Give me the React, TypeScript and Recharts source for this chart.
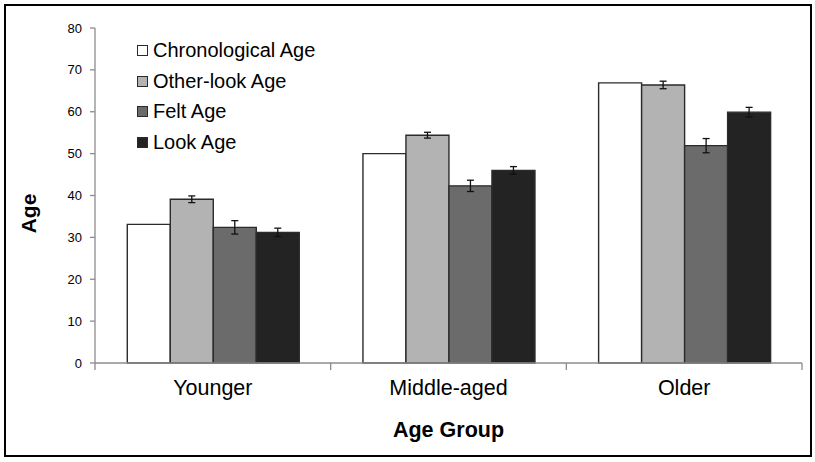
import React from 'react';
import { BarChart, Bar, XAxis, YAxis, Legend, ErrorBar } from 'recharts';

const categories = ['Younger', 'Middle-aged', 'Older'];
const seriesNames = ['Chronological Age', 'Other-look Age', 'Felt Age', 'Look Age'];
const chronological = [33.1, 50.0, 66.9];
const otherLook = [39.1, 54.4, 66.4];
const otherLookErr = [0.8, 0.7, 0.9];
const felt = [32.4, 42.3, 51.9];
const feltErr = [1.6, 1.35, 1.7];
const look = [31.2, 46.0, 59.9];
const lookErr = [1.0, 0.9, 1.15];
const yTicks = [0, 10, 20, 30, 40, 50, 60, 70, 80];

const data = categories.map((group, i) => ({
  group,
  chronological: chronological[i],
  otherLook: otherLook[i],
  otherLookErr: otherLookErr[i],
  felt: felt[i],
  feltErr: feltErr[i],
  look: look[i],
  lookErr: lookErr[i],
}));

const FONT = '"Liberation Sans", Arial, Helvetica, sans-serif';
const AXIS = '#8c8c8c';
const EDGE = '#2b2b2b';

// category tick: label at the band centre, tick marks at the band boundaries
const GroupTick = (props: any) => {
  const { x, y, payload, index } = props;
  const half = payload && typeof payload.offset === 'number' ? payload.offset : 0;
  return (
    <g>
      {index === 0 && half > 0 && (
        <line x1={x - half} y1={y} x2={x - half} y2={y + 7} stroke={AXIS} strokeWidth={1.3} />
      )}
      {half > 0 && <line x1={x + half} y1={y} x2={x + half} y2={y + 7} stroke={AXIS} strokeWidth={1.3} />}
      <text x={x} y={y + 17} dy="0.71em" textAnchor="middle" fontFamily={FONT} fontSize={21.5} fill="#000">
        {payload.value}
      </text>
    </g>
  );
};

const renderLegend = (props: any) => {
  const items = [...(props.payload || [])].sort(
    (a: any, b: any) => seriesNames.indexOf(a.value) - seriesNames.indexOf(b.value)
  );
  return (
    <div style={{ display: 'flex', flexDirection: 'column', fontFamily: FONT }}>
      {items.map((entry: any) => (
        <div
          key={entry.value}
          style={{ display: 'flex', alignItems: 'center', height: 30.8, fontSize: 20, color: '#000', whiteSpace: 'nowrap' }}
        >
          <span
            style={{
              display: 'inline-block',
              width: 11,
              height: 11,
              boxSizing: 'border-box',
              border: `1px solid ${EDGE}`,
              background: entry.color,
              marginRight: 5,
            }}
          />
          <span>{entry.value}</span>
        </div>
      ))}
    </div>
  );
};

const YLabel = (props: any) => {
  const vb = props.viewBox || { x: 0, y: 0, width: 0, height: 0 };
  const cx = vb.x + 13;
  const cy = vb.y + vb.height / 2 + 18;
  return (
    <text
      x={cx}
      y={cy}
      transform={`rotate(-90 ${cx} ${cy})`}
      textAnchor="middle"
      dominantBaseline="central"
      fontFamily={FONT}
      fontWeight="bold"
      fontSize={21}
      fill="#000"
    >
      Age
    </text>
  );
};

export default function App() {
  return (
    <div style={{ position: 'absolute', left: 0, top: 0, width: 815, height: 462, background: '#fff', fontFamily: FONT }}>
      <BarChart
        width={815}
        height={462}
        data={data}
        margin={{ top: 28, right: 13, bottom: 24, left: 15 }}
        barCategoryGap="13.7%"
        barGap={0}
      >
        <XAxis
          dataKey="group"
          interval={0}
          tickLine={false}
          tickSize={0}
          tickMargin={0}
          height={75}
          axisLine={{ stroke: AXIS, strokeWidth: 1.3 }}
          tick={<GroupTick />}
          label={{ value: 'Age Group', position: 'insideBottom', offset: 1, fontSize: 21.5, fontWeight: 'bold', fill: '#000', fontFamily: FONT }}
        />
        <YAxis
          width={80}
          domain={[0, 80]}
          ticks={yTicks}
          tickSize={5}
          tickMargin={8}
          stroke={AXIS}
          strokeWidth={1.3}
          tick={{ fontSize: 13, fill: '#000', fontFamily: FONT }}
          label={{ content: <YLabel /> }}
        />
        <Legend
          layout="vertical"
          verticalAlign="middle"
          align="center"
          wrapperStyle={{ left: 137, top: 35, width: 300 }}
          content={renderLegend}
        />
        <Bar dataKey="chronological" name="Chronological Age" fill="#ffffff" stroke={EDGE} strokeWidth={1.4} isAnimationActive={false} />
        <Bar dataKey="otherLook" name="Other-look Age" fill="#b3b3b3" stroke={EDGE} strokeWidth={1.4} isAnimationActive={false}>
          <ErrorBar dataKey="otherLookErr" width={3.5} stroke="#111" strokeWidth={1.3} direction="y" isAnimationActive={false} />
        </Bar>
        <Bar dataKey="felt" name="Felt Age" fill="#6b6b6b" stroke={EDGE} strokeWidth={1.4} isAnimationActive={false}>
          <ErrorBar dataKey="feltErr" width={3.5} stroke="#111" strokeWidth={1.3} direction="y" isAnimationActive={false} />
        </Bar>
        <Bar dataKey="look" name="Look Age" fill="#232323" stroke={EDGE} strokeWidth={1.4} isAnimationActive={false}>
          <ErrorBar dataKey="lookErr" width={3.5} stroke="#111" strokeWidth={1.3} direction="y" isAnimationActive={false} />
        </Bar>
      </BarChart>
      <div
        style={{
          position: 'absolute',
          left: 4,
          top: 4,
          width: 804,
          height: 449,
          border: '2px solid #000',
          pointerEvents: 'none',
        }}
      />
    </div>
  );
}
